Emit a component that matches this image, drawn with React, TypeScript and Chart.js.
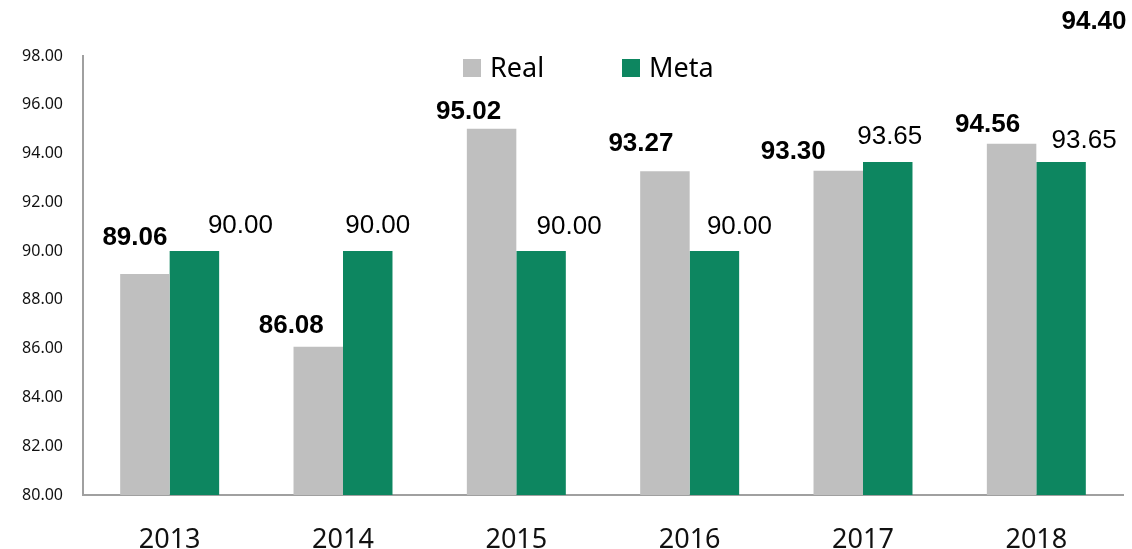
import React, { useEffect, useRef } from "react";
import { Chart, registerables } from "chart.js";

Chart.register(...registerables);

const categories = ["2013", "2014", "2015", "2016", "2017", "2018"];
const realValues = [89.06, 86.08, 95.02, 93.27, 93.3, 94.4];
const metaValues = [90.0, 90.0, 90.0, 90.0, 93.65, 93.65];
const realLabels = ["89.06", "86.08", "95.02", "93.27", "93.30", "94.56"];
const metaLabels = ["90.00", "90.00", "90.00", "90.00", "93.65", "93.65"];
const strayLabel = "94.40";
const yMin = 80;
const yMax = 98;
const yStep = 2;

// label placement (style): offset of label centre from bar top-centre
const realOffsets = [
  [-10, -36],
  [-27, -21],
  [-23, -17],
  [-24, -28],
  [-45, -19],
  [-24, -19],
];
const metaOffsets = [
  [46, -25],
  [10, -25],
  [28, -24],
  [25, -24],
  [2, -25],
  [23, -21],
];

const GRAY = "#BFBFBF";
const GREEN = "#0D8660";

const labelPlugin = {
  id: "customLabels",
  afterDatasetsDraw(chart: any) {
    const ctx = chart.ctx;
    ctx.save();
    ctx.textAlign = "center";
    ctx.textBaseline = "middle";
    ctx.fillStyle = "#000";
    const m0 = chart.getDatasetMeta(0);
    const m1 = chart.getDatasetMeta(1);
    ctx.font = "bold 26px 'Liberation Sans', Arial, sans-serif";
    m0.data.forEach((el: any, i: number) => {
      const [dx, dy] = realOffsets[i];
      ctx.fillText(realLabels[i], el.x + dx, el.y + dy);
    });
    ctx.font = "26px 'Liberation Sans', Arial, sans-serif";
    m1.data.forEach((el: any, i: number) => {
      const [dx, dy] = metaOffsets[i];
      ctx.fillText(metaLabels[i], el.x + dx, el.y + dy);
    });
    // stray label at the top right
    ctx.font = "bold 26px 'Liberation Sans', Arial, sans-serif";
    ctx.fillText(strayLabel, chart.width - 38, 22);

    // legend
    const ly = 69;
    const items = [
      { color: GRAY, text: "Real", x: 463 },
      { color: GREEN, text: "Meta", x: 622 },
    ];
    ctx.font = "27px 'Noto Sans', sans-serif";
    ctx.textAlign = "left";
    items.forEach((it) => {
      ctx.fillStyle = it.color;
      ctx.fillRect(it.x, ly - 10, 18, 18);
      ctx.fillStyle = "#000";
      ctx.fillText(it.text, it.x + 27, ly);
    });
    ctx.restore();
  },
};

export default function App() {
  const ref = useRef<HTMLCanvasElement | null>(null);
  useEffect(() => {
    if (!ref.current) return;
    const chart = new Chart(ref.current, {
      type: "bar",
      data: {
        labels: categories,
        datasets: [
          {
            label: "Real",
            data: realValues,
            backgroundColor: GRAY,
            categoryPercentage: 0.571,
            barPercentage: 1,
          },
          {
            label: "Meta",
            data: metaValues,
            backgroundColor: GREEN,
            categoryPercentage: 0.571,
            barPercentage: 1,
          },
        ],
      },
      options: {
        animation: false,
        responsive: true,
        maintainAspectRatio: false,
        layout: { padding: { top: 56, right: 9, left: 0, bottom: 0 } },
        plugins: {
          legend: { display: false },
          tooltip: { enabled: false },
        },
        scales: {
          x: {
            grid: { display: false, drawTicks: false },
            border: { display: true, color: "#A0A0A0", width: 2 },
            ticks: {
              color: "#111",
              padding: 29,
              font: { family: "'Noto Sans', sans-serif", size: 27 },
            },
            afterFit: (s: any) => {
              s.height = 54;
            },
          },
          y: {
            min: yMin,
            max: yMax,
            grid: { display: false, drawTicks: false },
            border: { display: true, color: "#A0A0A0", width: 2 },
            ticks: {
              stepSize: yStep,
              color: "#111",
              padding: 20,
              font: { family: "'Noto Sans', sans-serif", size: 16 },
              callback: (v: any) => Number(v).toFixed(2),
            },
            afterFit: (s: any) => {
              s.width = 83;
            },
          },
        },
      },
      plugins: [labelPlugin],
    });
    return () => chart.destroy();
  }, []);
  return (
    <div style={{ position: "fixed", left: 0, top: 0, width: 1132, height: 549, background: "#fff" }}>
      <canvas ref={ref} />
    </div>
  );
}
